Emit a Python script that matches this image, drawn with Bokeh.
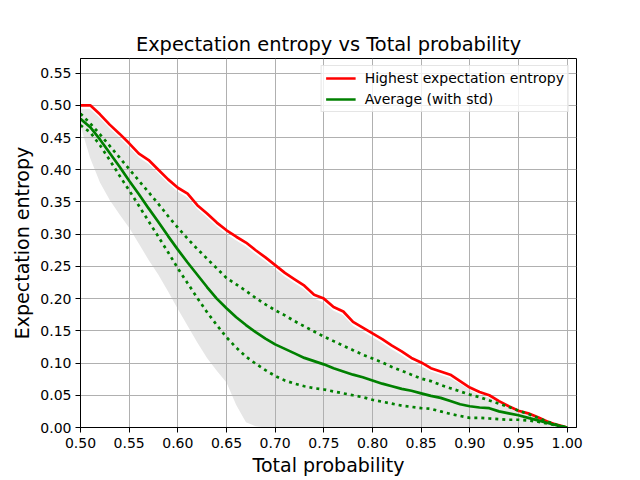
from bokeh.plotting import figure
from bokeh.models import Range1d, FixedTicker, NumeralTickFormatter, Legend, LegendItem
from bokeh.embed import file_html
from bokeh.resources import INLINE

# ---- data ----
total_prob = [0.50, 0.51, 0.52, 0.53, 0.54, 0.55, 0.56, 0.57, 0.58, 0.59,
              0.60, 0.61, 0.62, 0.63, 0.64, 0.65, 0.66, 0.67, 0.68, 0.69,
              0.70, 0.71, 0.72, 0.73, 0.74, 0.75, 0.76, 0.77, 0.78, 0.79,
              0.80, 0.81, 0.82, 0.83, 0.84, 0.85, 0.86, 0.87, 0.88, 0.89,
              0.90, 0.91, 0.92, 0.93, 0.94, 0.95, 0.96, 0.97, 0.98, 0.99, 1.00]

highest_entropy = [0.500, 0.500, 0.486, 0.470, 0.456, 0.441, 0.425, 0.415, 0.400, 0.385,
                   0.372, 0.363, 0.345, 0.332, 0.318, 0.306, 0.296, 0.287, 0.275, 0.264,
                   0.252, 0.240, 0.230, 0.220, 0.206, 0.200, 0.187, 0.180, 0.164, 0.155,
                   0.146, 0.137, 0.127, 0.118, 0.108, 0.101, 0.092, 0.087, 0.082, 0.072,
                   0.062, 0.055, 0.050, 0.041, 0.033, 0.026, 0.022, 0.016, 0.009, 0.004, 0.000]

average_entropy = [0.479, 0.466, 0.447, 0.426, 0.405, 0.383, 0.362, 0.340, 0.319, 0.297,
                   0.276, 0.256, 0.237, 0.218, 0.200, 0.185, 0.171, 0.159, 0.148, 0.138,
                   0.129, 0.122, 0.115, 0.108, 0.103, 0.098, 0.092, 0.087, 0.082, 0.078,
                   0.073, 0.068, 0.064, 0.060, 0.057, 0.053, 0.049, 0.046, 0.041, 0.036,
                   0.033, 0.031, 0.030, 0.025, 0.022, 0.019, 0.015, 0.011, 0.007, 0.003, 0.000]

average_plus_std = [0.487, 0.472, 0.455, 0.437, 0.419, 0.401, 0.383, 0.365, 0.347, 0.328,
                    0.310, 0.293, 0.277, 0.262, 0.247, 0.232, 0.222, 0.212, 0.201, 0.191,
                    0.182, 0.174, 0.165, 0.157, 0.149, 0.141, 0.134, 0.127, 0.120, 0.113,
                    0.107, 0.101, 0.094, 0.088, 0.082, 0.076, 0.072, 0.066, 0.061, 0.056,
                    0.051, 0.047, 0.042, 0.037, 0.032, 0.026, 0.021, 0.015, 0.009, 0.004, 0.000]

average_minus_std = [0.469, 0.458, 0.438, 0.415, 0.391, 0.368, 0.344, 0.320, 0.296, 0.272,
                     0.247, 0.224, 0.201, 0.179, 0.159, 0.140, 0.124, 0.110, 0.099, 0.089,
                     0.080, 0.073, 0.068, 0.064, 0.061, 0.059, 0.056, 0.053, 0.050, 0.047,
                     0.043, 0.040, 0.037, 0.034, 0.032, 0.030, 0.029, 0.025, 0.021, 0.018,
                     0.015, 0.015, 0.014, 0.013, 0.012, 0.012, 0.011, 0.009, 0.006, 0.003, 0.000]

# extent of the grey cloud of individual samples
cloud_upper = [0.494, 0.494, 0.480, 0.464, 0.450, 0.435, 0.419, 0.409, 0.394, 0.379,
               0.366, 0.357, 0.339, 0.326, 0.312, 0.300, 0.290, 0.281, 0.269, 0.258,
               0.246, 0.234, 0.224, 0.214, 0.200, 0.194, 0.181, 0.174, 0.158, 0.149,
               0.140, 0.131, 0.121, 0.112, 0.102, 0.095, 0.087, 0.082, 0.077, 0.068,
               0.058, 0.051, 0.046, 0.038, 0.030, 0.024, 0.020, 0.014, 0.008, 0.003, 0.000]

cloud_lower = [0.468, 0.418, 0.380, 0.353, 0.331, 0.310, 0.285, 0.260, 0.237, 0.211,
               0.184, 0.158, 0.132, 0.108, 0.088, 0.070, 0.035, 0.008, 0.002, 0.000,
               0.000, 0.000, 0.000, 0.000, 0.000, 0.000, 0.000, 0.000, 0.000, 0.000,
               0.000, 0.000, 0.000, 0.000, 0.000, 0.000, 0.000, 0.000, 0.000, 0.000,
               0.000, 0.000, 0.000, 0.000, 0.000, 0.000, 0.000, 0.000, 0.000, 0.000, 0.000]

x_ticks = [0.50, 0.55, 0.60, 0.65, 0.70, 0.75, 0.80, 0.85, 0.90, 0.95, 1.00]
y_ticks = [0.00, 0.05, 0.10, 0.15, 0.20, 0.25, 0.30, 0.35, 0.40, 0.45, 0.50, 0.55]

FONT = "DejaVu Sans"

p = figure(frame_width=496, frame_height=369, output_backend="svg", toolbar_location=None,
           x_range=Range1d(0.50, 1.0096), y_range=Range1d(0.0, 0.5726),
           min_border_left=80, min_border_right=58, min_border_top=58, min_border_bottom=51,
           title="Expectation entropy vs Total probability")

p.title.text_font = FONT
p.title.text_font_size = "19.4px"
p.title.text_font_style = "normal"
p.title.align = "center"
p.title.text_color = "black"
p.title.standoff = 5

p.outline_line_color = "black"
p.outline_line_width = 1
p.background_fill_color = "white"
p.border_fill_color = "white"

# grey cloud drawn below the grid
cloud = p.varea(x=total_prob, y1=cloud_lower, y2=cloud_upper, fill_color="#e6e6e6")
cloud.level = "image"

r_high = p.line(total_prob, highest_entropy, line_color="red", line_width=2.7)
r_avg = p.line(total_prob, average_entropy, line_color="green", line_width=2.7)
p.line(total_prob, average_plus_std, line_color="green", line_width=2.7,
       line_dash="3 4", line_cap="butt")
p.line(total_prob, average_minus_std, line_color="green", line_width=2.7,
       line_dash="3 4", line_cap="butt")

for ax in (p.xaxis[0], p.yaxis[0]):
    ax.axis_line_color = "black"
    ax.major_tick_line_color = "black"
    ax.major_tick_out = 5
    ax.major_tick_in = 0
    ax.minor_tick_line_color = None
    ax.major_label_text_font = FONT
    ax.major_label_text_font_size = "14px"
    ax.major_label_text_color = "black"
    ax.axis_label_text_font = FONT
    ax.axis_label_text_font_size = "19px"
    ax.axis_label_text_font_style = "normal"
    ax.axis_label_text_color = "black"
    ax.formatter = NumeralTickFormatter(format="0.00")

p.xaxis[0].ticker = FixedTicker(ticks=x_ticks)
p.yaxis[0].ticker = FixedTicker(ticks=y_ticks)
p.xaxis[0].axis_label = "Total probability"
p.yaxis[0].axis_label = "Expectation entropy"
p.xaxis[0].major_label_standoff = 5
p.xaxis[0].axis_label_standoff = 3
p.yaxis[0].major_label_standoff = 4
p.yaxis[0].axis_label_standoff = 4

p.grid.grid_line_color = "#b0b0b0"
p.grid.grid_line_width = 1

legend = Legend(items=[LegendItem(label="Highest expectation entropy", renderers=[r_high]),
                       LegendItem(label="Average (with std)", renderers=[r_avg])],
                location="top_right")
legend.margin = 7
legend.padding = 4
legend.spacing = 5
legend.glyph_width = 30
legend.glyph_height = 16
legend.label_height = 16
legend.label_standoff = 9
legend.label_text_font = FONT
legend.label_text_font_size = "14px"
legend.label_text_color = "black"
legend.border_line_color = "#cccccc"
legend.border_line_width = 1
legend.background_fill_color = "white"
legend.background_fill_alpha = 0.8
p.add_layout(legend, "center")

open("out.html", "w").write(file_html(p, INLINE))
